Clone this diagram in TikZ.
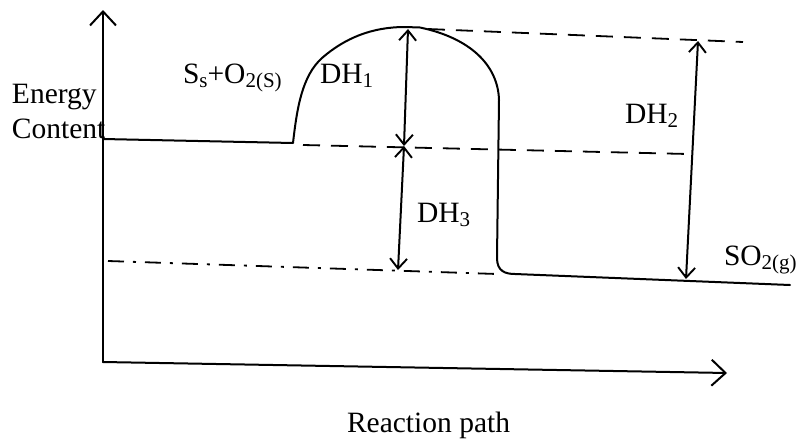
\documentclass[tikz,border=0pt]{standalone}
\usepackage{fontspec}
\setmainfont{Liberation Serif}
\usetikzlibrary{arrows.meta}
\newcommand\lsub[1]{\raisebox{-0.3ex}{\fontsize{21}{21}\selectfont #1}}
\tikzset{
  every node/.style={inner sep=0pt, outer sep=0pt},
  lbl/.style={anchor=base west, font=\fontsize{29.5}{34}\selectfont},
  ink/.style={line width=2pt, line cap=round, line join=round},
  dimarrow/.style={ink, {Straight Barb[length=10pt,width=17pt,line width=1.9pt]}-{Straight Barb[length=10pt,width=17pt,line width=1.9pt]}},
  axisarrow/.style={ink, -{Straight Barb[length=14pt,width=26pt,line width=2pt]}},
  dashedline/.style={line width=1.8pt, dash pattern=on 17pt off 11pt},
  dashdotline/.style={line width=1.8pt, dash pattern=on 16pt off 9pt on 3pt off 9pt},
}
\begin{document}
\begin{tikzpicture}[x=1pt,y=-1pt]
\useasboundingbox (0,0) rectangle (798,442);
% axes
\coordinate (origin) at (103,362);
\coordinate (ytop) at (103,10);
\coordinate (xend) at (727,373);
\draw[axisarrow] (origin) -- (ytop);
\draw[axisarrow] (origin) -- (xend);
% energy profile
\coordinate (r0) at (103,139);
\coordinate (r1) at (293,143);
\coordinate (peak) at (405,27);
\coordinate (p0) at (515,274);
\coordinate (p1) at (790,285);
\draw[ink] (r0) -- (r1)
  .. controls (297,108) and (302,76) .. (322,58)
  .. controls (345,38) and (372,27) .. (peak)
  -- (420,27.5)
  .. controls (470,38) and (498,65) .. (499,100)
  -- (497,258)
  .. controls (497,271) and (505,274) .. (p0) -- (p1);
% dashed levels
\coordinate (t0) at (428,29);
\coordinate (t1) at (743,42);
\coordinate (m0) at (303,145);
\coordinate (m1) at (688,154);
\coordinate (b0) at (108,261);
\coordinate (b1) at (497,274);
\draw[dashedline] (t0) -- (t1);
\draw[dashedline] (m0) -- (m1);
\draw[dashdotline] (b0) -- (b1);
% enthalpy arrows
\coordinate (a1top) at (408,29);
\coordinate (a1mid) at (404,146);
\coordinate (a3bot) at (398,270);
\coordinate (a2top) at (698,41);
\coordinate (a2bot) at (686,279);
\draw[dimarrow] (a1top) -- (a1mid);
\draw[dimarrow] (a1mid) -- (a3bot);
\draw[dimarrow] (a2top) -- (a2bot);
% labels
\node[lbl] (energy) at (12,103) {Energy};
\node[lbl] (content) at (12,138) {Content};
\node[lbl] (react) at (183,83) {S\lsub{s}+O\lsub{2(S)}};
\node[lbl] (dh1) at (320,83) {DH\lsub{1}};
\node[lbl] (dh2) at (625,123) {DH\lsub{2}};
\node[lbl] (dh3) at (417,222) {DH\lsub{3}};
\node[lbl] (prod) at (724,265) {SO\lsub{2(g)}};
\node[lbl] (xlabel) at (347,432) {Reaction path};
\end{tikzpicture}
\end{document}
